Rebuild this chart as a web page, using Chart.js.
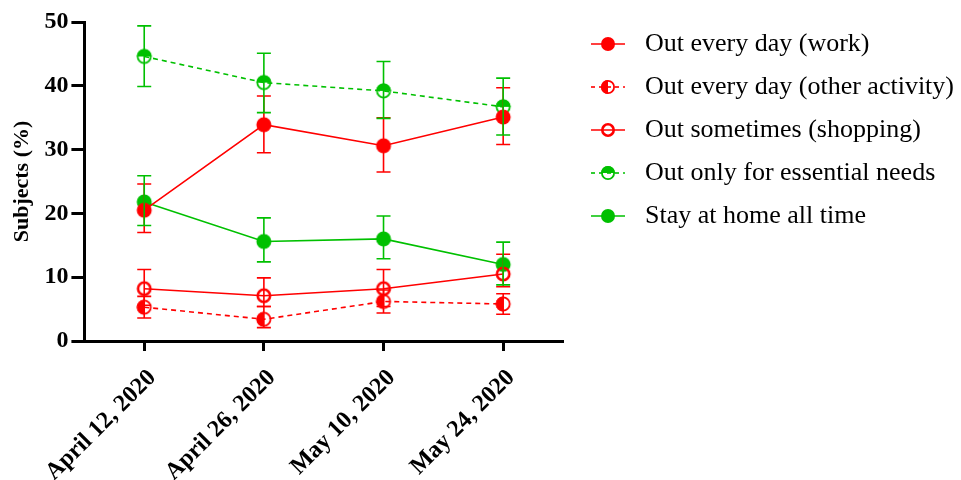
<!DOCTYPE html>
<html>
<head>
<meta charset="utf-8">
<script src="https://cdn.jsdelivr.net/npm/chart.js@4.4.1/dist/chart.umd.min.js"></script>
<style>
  html, body { margin: 0; padding: 0; background: #fff; }
  #wrap { width: 961px; height: 480px; }
</style>
</head>
<body>
<div id="wrap"><canvas id="chart"></canvas></div>
<script>
const dates = ['April 12, 2020', 'April 26, 2020', 'May 10, 2020', 'May 24, 2020'];

const workMean = [20.5, 33.9, 30.6, 35.1];
const workLow = [17.0, 29.5, 26.5, 30.8];
const workHigh = [24.6, 38.4, 35.0, 39.7];

const otherMean = [5.3, 3.4, 6.2, 5.8];
const otherLow = [3.6, 2.1, 4.4, 4.2];
const otherHigh = [7.0, 5.4, 8.0, 7.4];

const shopMean = [8.2, 7.1, 8.2, 10.5];
const shopLow = [5.6, 5.4, 5.4, 8.5];
const shopHigh = [11.2, 9.9, 11.2, 13.6];

const essentialMean = [44.6, 40.5, 39.2, 36.7];
const essentialLow = [39.9, 35.8, 34.9, 32.3];
const essentialHigh = [49.4, 45.1, 43.8, 41.2];

const homeMean = [21.8, 15.6, 16.0, 12.0];
const homeLow = [18.1, 12.4, 12.9, 8.8];
const homeHigh = [25.9, 19.3, 19.6, 15.5];

const RED = '#ff0000';
const GREEN = '#00c000';
const serif = "'Liberation Serif', 'Times New Roman', serif";

// kind: full | left | open | top
function drawMarker(ctx, cx, cy, r, color, kind) {
  ctx.strokeStyle = color;
  ctx.fillStyle = color;
  if (kind === 'full') {
    ctx.beginPath();
    ctx.arc(cx, cy, r, 0, Math.PI * 2);
    ctx.fill();
    return;
  }
  if (kind === 'left') {
    ctx.beginPath();
    ctx.arc(cx, cy, r, Math.PI / 2, Math.PI * 1.5);
    ctx.closePath();
    ctx.fill();
  }
  if (kind === 'top') {
    ctx.beginPath();
    ctx.arc(cx, cy, r, Math.PI, Math.PI * 2);
    ctx.closePath();
    ctx.fill();
  }
  ctx.lineWidth = kind === 'open' ? 2.6 : 1.8;
  ctx.beginPath();
  ctx.arc(cx, cy, r - ctx.lineWidth / 2, 0, Math.PI * 2);
  ctx.stroke();
}

function markerImage(color, kind) {
  const c = document.createElement('canvas');
  c.width = 18; c.height = 18;
  drawMarker(c.getContext('2d'), 9, 9, 7.5, color, kind);
  return c;
}

function legendImage(color, kind, dashed) {
  const c = document.createElement('canvas');
  c.width = 52; c.height = 20;
  const ctx = c.getContext('2d');
  ctx.strokeStyle = color;
  ctx.lineWidth = 1.6;
  if (dashed) ctx.setLineDash([4, 4]);
  ctx.beginPath();
  ctx.moveTo(11, 10);
  ctx.lineTo(45, 10);
  ctx.stroke();
  ctx.setLineDash([]);
  drawMarker(ctx, 28, 10, 7, color, kind);
  return c;
}

const series = [
  { label: 'Out every day (work)', data: workMean, low: workLow, high: workHigh, color: RED, kind: 'full', dashed: false },
  { label: 'Out every day (other activity)', data: otherMean, low: otherLow, high: otherHigh, color: RED, kind: 'left', dashed: true },
  { label: 'Out sometimes (shopping)', data: shopMean, low: shopLow, high: shopHigh, color: RED, kind: 'open', dashed: false },
  { label: 'Out only for essential needs', data: essentialMean, low: essentialLow, high: essentialHigh, color: GREEN, kind: 'top', dashed: true },
  { label: 'Stay at home all time', data: homeMean, low: homeLow, high: homeHigh, color: GREEN, kind: 'full', dashed: false }
];

const errorBars = {
  id: 'errorBars',
  afterDatasetsDraw(chart) {
    const ctx = chart.ctx;
    const y = chart.scales.y;
    chart.data.datasets.forEach((ds, i) => {
      const meta = chart.getDatasetMeta(i);
      ctx.save();
      ctx.strokeStyle = ds.borderColor;
      ctx.lineWidth = 1.6;
      meta.data.forEach((pt, j) => {
        const yl = y.getPixelForValue(ds.low[j]);
        const yh = y.getPixelForValue(ds.high[j]);
        ctx.beginPath();
        ctx.moveTo(pt.x, yl); ctx.lineTo(pt.x, yh);
        ctx.moveTo(pt.x - 7, yl); ctx.lineTo(pt.x + 7, yl);
        ctx.moveTo(pt.x - 7, yh); ctx.lineTo(pt.x + 7, yh);
        ctx.stroke();
      });
      ctx.restore();
    });
  }
};

// the right-hand legend gets squeezed by the default layout, give it its room back
const legendWidth = {
  id: 'legendWidth',
  beforeUpdate(chart) {
    const legend = chart.legend;
    if (!legend || legend._wide) return;
    const fit = legend.fit;
    legend.fit = function() {
      fit.call(this);
      this.width = 396;
    };
    legend._wide = true;
  }
};

new Chart(document.getElementById('chart'), {
  type: 'line',
  data: {
    labels: dates,
    datasets: series.map(s => ({
      label: s.label,
      data: s.data,
      low: s.low,
      high: s.high,
      borderColor: s.color,
      backgroundColor: s.color,
      borderWidth: 1.6,
      borderDash: s.dashed ? [5, 4] : [],
      pointStyle: markerImage(s.color, s.kind),
      legendStyle: legendImage(s.color, s.kind, s.dashed),
      pointRadius: 8,
      tension: 0
    }))
  },
  plugins: [errorBars, legendWidth],
  options: {
    responsive: true,
    maintainAspectRatio: false,
    animation: false,
    layout: { padding: { left: 9, right: 2, top: 14, bottom: 0 } },
    scales: {
      x: {
        offset: true,
        afterFit(scale) { scale.height = 139; },
        grid: { display: true, drawOnChartArea: false, tickLength: 10, tickWidth: 3, color: '#000' },
        border: { color: '#000', width: 3 },
        ticks: {
          color: '#000',
          minRotation: 45,
          maxRotation: 45,
          padding: 13,
          labelOffset: 8,
          font: { family: serif, size: 24, weight: 'bold' }
        }
      },
      y: {
        min: 0,
        max: 50,
        afterFit(scale) { scale.paddingTop = 22; },
        grid: { display: true, drawOnChartArea: false, tickLength: 13, tickWidth: 3, color: '#000' },
        border: { color: '#000', width: 3 },
        ticks: {
          stepSize: 10,
          color: '#000',
          padding: 3,
          font: { family: serif, size: 24, weight: 'bold' }
        },
        title: {
          display: true,
          text: 'Subjects (%)',
          color: '#000',
          padding: { top: 0, bottom: 6 },
          font: { family: serif, size: 22, weight: 'bold' }
        }
      }
    },
    plugins: {
      tooltip: { enabled: false },
      legend: {
        position: 'right',
        align: 'start',
        labels: {
          usePointStyle: true,
          pointStyleWidth: 52,
          padding: 17,
          color: '#000',
          font: { family: serif, size: 26 },
          generateLabels: function(chart) {
            return chart.data.datasets.map((ds, i) => ({
              text: ds.label,
              pointStyle: ds.legendStyle,
              fillStyle: ds.borderColor,
              strokeStyle: ds.borderColor,
              lineWidth: 0,
              fontColor: '#000',
              hidden: false,
              datasetIndex: i
            }));
          }
        }
      }
    }
  }
});
</script>
</body>
</html>
